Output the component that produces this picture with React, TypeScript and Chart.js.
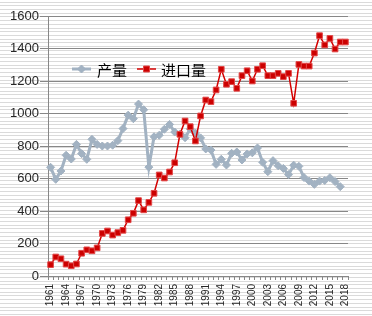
import { useEffect, useRef } from "react";
import { Chart, registerables } from "chart.js";

Chart.register(...registerables);

const years = [
  "1961", "1962", "1963", "1964", "1965", "1966", "1967", "1968", "1969", "1970",
  "1971", "1972", "1973", "1974", "1975", "1976", "1977", "1978", "1979", "1980",
  "1981", "1982", "1983", "1984", "1985", "1986", "1987", "1988", "1989", "1990",
  "1991", "1992", "1993", "1994", "1995", "1996", "1997", "1998", "1999", "2000",
  "2001", "2002", "2003", "2004", "2005", "2006", "2007", "2008", "2009", "2010",
  "2011", "2012", "2013", "2014", "2015", "2016", "2017", "2018",
];

const productionLabel = "产量";
const importLabel = "进口量";

const production: (number | null)[] = [
  669, 595, 646, 743, 720, 810, 753, 718, 841, 810,
  800, 800, 805, 833, 907, 990, 968, 1058, 1023, 670,
  857, 866, 903, 933, 886, 874, 851, 905, 880, 850,
  782, 775, 687, 718, 683, 755, 763, 714, 751, 758,
  788, 700, 642, 710, 678, 662, 624, 682, 675, 606,
  584, 564, 584, 588, 605, 581, 550, null,
];

const imports: number[] = [
  70, 117, 106, 73, 63, 74, 140, 161, 155, 173,
  262, 277, 252, 267, 281, 346, 386, 464, 407, 453,
  509, 622, 603, 640, 697, 872, 954, 919, 831, 985,
  1083, 1073, 1145, 1272, 1180, 1196, 1155, 1233, 1263, 1200,
  1272, 1294, 1233, 1233, 1247, 1227, 1247, 1063, 1302, 1292,
  1292, 1372, 1479, 1422, 1462, 1397, 1440, 1440,
];

const yMin = 0;
const yMax = 1600;
const yStep = 200;
const xLabelEvery = 3;

const W = 372;
const H = 316;
const GRID = "#878787";
const TEXT = "#262626";
const GRAY = "#A2B2C2";
const RED = "#D40000";

const backgroundPlugin = {
  id: "stripedBackground",
  beforeDraw(chart: any) {
    const ctx = chart.ctx;
    ctx.save();
    ctx.fillStyle = "#ffffff";
    ctx.fillRect(0, 0, chart.width, chart.height);
    ctx.fillStyle = "#dadada";
    for (let y = 1.5; y < chart.height; y += 3.72) {
      ctx.fillRect(0, Math.round(y), chart.width, 1);
    }
    ctx.restore();
  },
};

const legendPlugin = {
  id: "insideLegend",
  afterDraw(chart: any) {
    const ctx = chart.ctx;
    const area = chart.chartArea;
    const cy = area.top + 53;
    let x = area.left + 24;
    ctx.save();
    ctx.font = '15px "Noto Sans CJK SC"';
    ctx.textBaseline = "middle";
    ctx.textAlign = "left";
    chart.data.datasets.forEach((ds: any, i: number) => {
      const sampleW = 19;
      ctx.strokeStyle = ds.borderColor;
      ctx.lineWidth = ds.borderWidth;
      ctx.beginPath();
      ctx.moveTo(x, cy);
      ctx.lineTo(x + sampleW, cy);
      ctx.stroke();
      const mx = x + sampleW / 2;
      ctx.fillStyle = ds.pointBackgroundColor;
      ctx.strokeStyle = ds.pointBorderColor;
      ctx.lineWidth = 1;
      ctx.beginPath();
      if (ds.pointStyle === "rectRot") {
        const r = 4;
        ctx.moveTo(mx, cy - r);
        ctx.lineTo(mx + r, cy);
        ctx.lineTo(mx, cy + r);
        ctx.lineTo(mx - r, cy);
        ctx.closePath();
      } else {
        const s = 3;
        ctx.rect(mx - s, cy - s, 2 * s, 2 * s);
      }
      ctx.fill();
      ctx.stroke();
      x += sampleW + (i === 0 ? 6 : 5);
      ctx.fillStyle = "#000000";
      ctx.fillText(ds.label, x, cy + 1);
      x += ctx.measureText(ds.label).width + 10;
    });
    ctx.restore();
  },
};

export default function App() {
  const canvasRef = useRef<HTMLCanvasElement | null>(null);

  useEffect(() => {
    document.body.style.margin = "0";
    const canvas = canvasRef.current;
    if (!canvas) return;
    const chart = new Chart(canvas, {
      type: "line",
      data: {
        labels: years,
        datasets: [
          {
            label: productionLabel,
            data: production,
            borderColor: GRAY,
            backgroundColor: GRAY,
            borderWidth: 3,
            pointStyle: "rectRot",
            pointRadius: 4,
            pointBackgroundColor: GRAY,
            pointBorderColor: GRAY,
            pointBorderWidth: 1,
            tension: 0,
            order: 1,
          },
          {
            label: importLabel,
            data: imports,
            borderColor: RED,
            backgroundColor: RED,
            borderWidth: 1.5,
            pointStyle: "rect",
            pointRadius: 4,
            pointBackgroundColor: "#CC0000",
            pointBorderColor: "#E24848",
            pointBorderWidth: 1,
            tension: 0,
            order: 0,
          },
        ] as any,
      },
      options: {
        responsive: false,
        animation: false,
        devicePixelRatio: 1,
        layout: { padding: { left: 0, right: 24, top: 16, bottom: 0 } },
        plugins: {
          legend: { display: false },
          tooltip: { enabled: false },
        },
        scales: {
          x: {
            type: "category",
            offset: true,
            afterFit(scale: any) {
              scale.height = 40;
            },
            grid: {
              offset: true,
              drawOnChartArea: false,
              drawTicks: true,
              tickLength: 4,
              color: GRID,
            },
            border: { color: GRID },
            ticks: {
              autoSkip: false,
              minRotation: 90,
              maxRotation: 90,
              padding: 4,
              color: TEXT,
              font: { family: '"Liberation Sans", Arial, sans-serif', size: 10 },
              callback: (_v: any, i: number) => (i % xLabelEvery === 0 ? years[i] : ""),
            },
          },
          y: {
            min: yMin,
            max: yMax,
            afterFit(scale: any) {
              scale.width = 48;
            },
            grid: {
              color: GRID,
              drawTicks: true,
              tickLength: 8,
            },
            border: { color: GRID },
            ticks: {
              stepSize: yStep,
              padding: 1,
              color: TEXT,
              font: { family: '"Liberation Sans", Arial, sans-serif', size: 13 },
              callback: (v: any) => String(v),
            },
          },
        },
      } as any,
      plugins: [backgroundPlugin, legendPlugin],
    });
    return () => chart.destroy();
  }, []);

  return (
    <div style={{ position: "absolute", left: 0, top: 0, width: W, height: H }}>
      <canvas ref={canvasRef} width={W} height={H} style={{ width: W, height: H, display: "block" }} />
    </div>
  );
}
